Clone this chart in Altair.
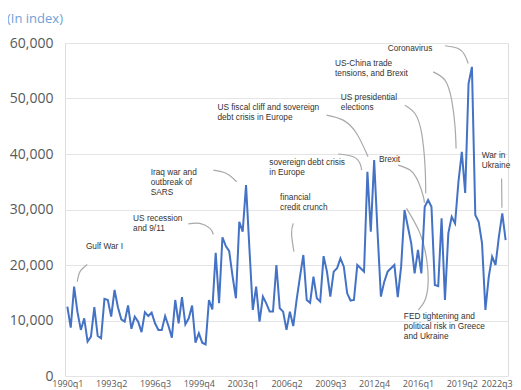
import altair as alt
import pandas as pd

# Quarterly index values, 1990q1 .. 2022q3
values = [
    12500, 8700, 16100, 11500, 8300, 10400, 6200, 7100, 12400, 7200,
    6800, 13900, 13700, 10700, 15500, 12400, 10200, 9800, 12700, 8500,
    10700, 9800, 7900, 11500, 10800, 11400, 9500, 8300, 8300, 10800,
    9000, 6900, 13700, 9500, 14200, 9300, 10400, 12700, 6000, 7700,
    6000, 5700, 13700, 12000, 22200, 13100, 25000, 23400, 22500, 18000,
    14000, 27800, 26000, 34400, 23000, 11900, 16100, 9800, 14300, 13100,
    11600, 11600, 20000, 12200, 11600, 8300, 11600, 9000, 13700, 17900,
    21800, 13700, 13200, 17900, 14000, 13400, 21600, 18800, 14300, 18800,
    19400, 21200, 19700, 14900, 13600, 13700, 20000, 19400, 18800, 36800,
    26000, 38900, 26000, 14300, 17000, 18800, 19400, 20000, 14200, 19700,
    29900, 26900, 23900, 18500, 22700, 18500, 30500, 31700, 30500, 16400,
    16200, 28400, 13700, 25700, 28700, 27500, 35000, 40400, 33000, 52700,
    55700, 29000, 27800, 23900, 11900, 17900, 21500, 20000, 25100, 29300,
    24500,
]
tick_labels = ["1990q1", "1993q2", "1996q3", "1999q4", "2003q1", "2006q2",
               "2009q3", "2012q4", "2016q1", "2019q2", "2022q3"]
y_ticks = [0, 10000, 20000, 30000, 40000, 50000, 60000]

# Annotation labels: (quarter index, index value, text)
ann_x = [5.5, 19.5, 24.7, 44.5, 59.9, 63.1, 92.4, 81.1, 79.4, 95.0, 122.9, 99.8]
ann_y = [24100, 29200, 37500, 49200, 39300, 33000, 39800, 51000, 57100, 59800, 40500, 11500]
ann_text = [
    "Gulf War I",
    "US recession\nand 9/11",
    "Iraq war and\noutbreak of\nSARS",
    "US fiscal cliff and sovereign\ndebt crisis in Europe",
    "sovereign debt crisis\nin Europe",
    "financial\ncredit crunch",
    "Brexit",
    "US presidential\nelections",
    "US-China trade\ntensions, and Brexit",
    "Coronavirus",
    "War in\nUkraine",
    "FED tightening and\npolitical risk in Greece\nand Ukraine",
]

# Connector curves, in data units (quarter index, index value)
conn_x = [
    [2.95, 3.75, 5.9],
    [35.9, 39.3, 42.3, 43.3],
    [43.3, 47.2, 50.2],
    [76.9, 81.8, 85.8, 89.2],
    [80.3, 84.8, 86.8, 87.3],
    [67.0, 66.5, 67.2],
    [98.1, 101.6, 104.1, 105.6, 105.9],
    [100.1, 103.1, 105.1, 106.1, 106.3],
    [108.5, 112.0, 114.0, 115.0, 115.3],
    [112.0, 115.9, 117.9, 118.9],
    [128.8, 128.9],
    [100.6, 104.6, 106.6, 107.0, 106.1, 104.1],
]
conn_y = [
    [17000, 18800, 20100],
    [27400, 27500, 26600, 25500],
    [37100, 36500, 35000],
    [47000, 46100, 43700, 39500],
    [40000, 39500, 38300, 37100],
    [27500, 25700, 22400],
    [38000, 37100, 35000, 32300, 31200],
    [48800, 47300, 43700, 37700, 32900],
    [54800, 53300, 49700, 44900, 41000],
    [59500, 59000, 57800, 56300],
    [35600, 30300],
    [30200, 25700, 20900, 16700, 13700, 11900],
]

df = pd.DataFrame({"t": list(range(len(values))), "v": values})
df_ann = pd.DataFrame({"t": ann_x, "v": ann_y, "label": ann_text})
rows = []
for cid, (xs, ys) in enumerate(zip(conn_x, conn_y)):
    for k, (a, b) in enumerate(zip(xs, ys)):
        rows.append({"id": cid, "k": k, "t": a, "v": b})
df_conn = pd.DataFrame(rows)

tick_values = [13 * i for i in range(len(tick_labels))]
label_expr = "[" + ",".join("'%s'" % s for s in tick_labels) + "][round(datum.value / 13)]"

x_enc = alt.X(
    "t:Q",
    scale=alt.Scale(domain=[-0.7, 130.7], nice=False, zero=False),
    axis=alt.Axis(
        values=tick_values,
        labelExpr=label_expr,
        title=None, grid=False, ticks=False, domain=False,
        labelFontSize=9, labelColor="#595959", labelFont="Open Sans",
        labelPadding=3,
        labelOffset={"condition": {"test": "datum.value == %d" % tick_values[-1], "value": -9},
                     "value": 0},
    ),
)
y_enc = alt.Y(
    "v:Q",
    scale=alt.Scale(domain=[0, 60000], nice=False),
    axis=alt.Axis(
        values=y_ticks, format=",.0f", title=None, grid=True,
        gridColor="#e4e4e4", gridWidth=1, domain=False, ticks=False,
        labelFontSize=14, labelColor="#595959", labelFont="Open Sans",
        labelPadding=12,
    ),
)

connectors = alt.Chart(df_conn).mark_line(
    interpolate="natural", color="#a9a9a9", strokeWidth=1.2
).encode(x=x_enc, y=y_enc, detail="id:N", order="k:Q")

line = alt.Chart(df).mark_line(color="#4472c4", strokeWidth=2).encode(x=x_enc, y=y_enc)

labels = alt.Chart(df_ann).mark_text(
    align="left", baseline="top", fontSize=8.3, font="Liberation Sans",
    color="#333333", lineBreak="\n", lineHeight=10,
).encode(x=x_enc, y=y_enc, text="label:N")

unit = alt.Chart(pd.DataFrame({"a": [0]})).mark_text(
    align="left", baseline="middle", fontSize=13, font="Open Sans", color="#6f9fd8",
).encode(x=alt.value(-58), y=alt.value(-24), text=alt.value("(In index)"))

chart = alt.layer(connectors, line, labels, unit).properties(
    width=443, height=333,
    padding={"left": 57, "top": 35, "right": 5, "bottom": 14},
    autosize=alt.AutoSizeParams(type="none"),
).configure_view(stroke=None).configure(background="#ffffff")

chart.save("out.html", embed_options={"renderer": "svg", "actions": False})
